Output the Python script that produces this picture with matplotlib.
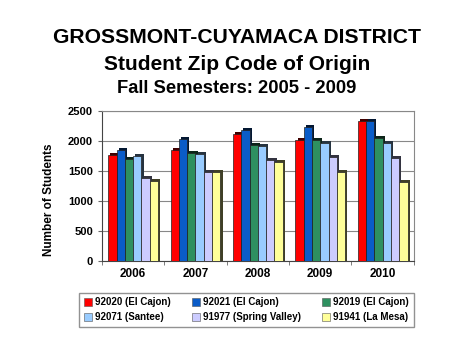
import matplotlib
matplotlib.use("Agg")
import matplotlib.pyplot as plt
import numpy as np
from matplotlib.colors import to_rgb
from matplotlib.patches import Patch

plt.rcParams["font.family"] = ["Liberation Sans", "DejaVu Sans"]
plt.rcParams["font.weight"] = "bold"

years = ["2006", "2007", "2008", "2009", "2010"]
zip_labels = [
    "92020 (El Cajon)",
    "92021 (El Cajon)",
    "92019 (El Cajon)",
    "92071 (Santee)",
    "91977 (Spring Valley)",
    "91941 (La Mesa)",
]
z92020 = [1760, 1850, 2110, 2020, 2340]
z92021 = [1850, 2030, 2180, 2240, 2330]
z92019 = [1700, 1800, 1930, 2020, 2050]
z92071 = [1750, 1790, 1910, 1970, 1970]
z91977 = [1390, 1490, 1690, 1730, 1710]
z91941 = [1340, 1480, 1650, 1480, 1320]
series = [z92020, z92021, z92019, z92071, z91977, z91941]
colors = ["#FF0000", "#0A5CC8", "#2E9060", "#99CCFF", "#CCCCFF", "#FFFF99"]

fig = plt.figure(figsize=(4.74, 3.55), dpi=100)
ax = fig.add_axes([0.215, 0.265, 0.658, 0.422])

x = np.arange(len(years))
width = 0.133
dx, dy = 0.035, 35
for i, (vals, col) in enumerate(zip(series, colors)):
    pos = x + (i - 2.5) * width
    dark = tuple(c * 0.25 for c in to_rgb(col))
    ax.bar(pos + dx, vals, width, bottom=0, color=dark, edgecolor="none", zorder=2)
    ax.bar(pos + dx, [dy] * len(vals), width, bottom=vals, color=dark, edgecolor="none", zorder=2)
    ax.bar(pos, vals, width, color=col, edgecolor="#222222", linewidth=0.5, zorder=3)

ax.set_xlim(-0.5, len(years) - 0.5)
ax.set_ylim(0, 2500)
ax.set_yticks(range(0, 2501, 500))
ax.yaxis.grid(True, color="#888888", linewidth=0.8, zorder=0)
ax.set_axisbelow(True)
ax.set_xticks(x)
ax.set_xticklabels(years, fontsize=8.5, fontweight="bold")
ax.set_xticks(np.arange(-0.5, len(years)), minor=True)
ax.tick_params(axis="x", which="major", length=0, pad=5)
ax.tick_params(axis="x", which="minor", length=3, color="#666666")
ax.tick_params(axis="y", labelsize=8, length=3, color="#666666")
for lbl in ax.get_yticklabels():
    lbl.set_fontweight("bold")
for side in ["top", "right"]:
    ax.spines[side].set_color("#888888")
ax.spines["left"].set_color("#444444")
ax.spines["bottom"].set_color("#444444")
ax.set_ylabel("Number of Students", fontsize=8.5, fontweight="bold")
ax.yaxis.set_label_coords(-0.15, 0.41)

fig.text(0.5, 0.893, "GROSSMONT-CUYAMACA DISTRICT", ha="center", va="center",
         fontsize=15.2, fontweight="bold")
fig.text(0.5, 0.818, "Student Zip Code of Origin", ha="center", va="center",
         fontsize=15, fontweight="bold")
fig.text(0.5, 0.752, "Fall Semesters: 2005 - 2009", ha="center", va="center",
         fontsize=13.2, fontweight="bold")

handles = [Patch(facecolor=c, edgecolor="#555555", linewidth=0.4) for c in colors]
order = [0, 3, 1, 4, 2, 5]
leg = fig.legend([handles[k] for k in order], [zip_labels[k] for k in order],
                 ncol=3, loc="center", bbox_to_anchor=(0.52, 0.127),
                 fontsize=7, frameon=True, fancybox=False, edgecolor="#777777",
                 handlelength=0.8, handleheight=0.8, handletextpad=0.3,
                 columnspacing=2.2, borderpad=0.5, labelspacing=0.5)
leg.get_frame().set_linewidth(1.0)
for t in leg.get_texts():
    t.set_fontweight("bold")

fig.savefig("out.png", dpi=100)
